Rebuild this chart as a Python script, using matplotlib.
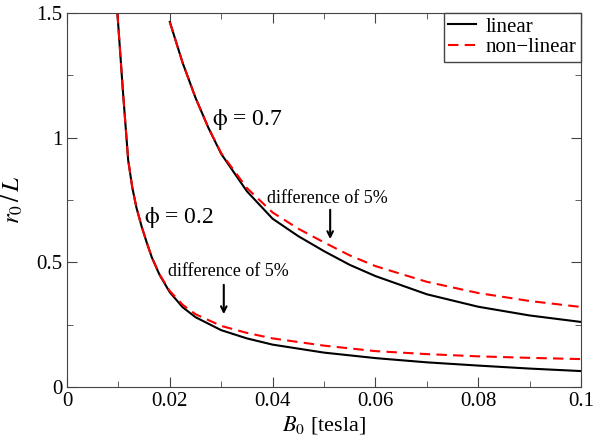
import matplotlib
matplotlib.use("Agg")
from matplotlib import pyplot as plt
from matplotlib.ticker import MultipleLocator, FormatStrFormatter

# phi = 0.2
b_02 = [0.0098, 0.0109, 0.0119, 0.0127, 0.0135, 0.0145, 0.0155, 0.0165, 0.0180, 0.0200,
        0.0225, 0.0250, 0.0300, 0.0350, 0.0400, 0.0500, 0.0600, 0.0700, 0.0800, 0.0900, 0.1000]
lin_02 = [1.50, 1.18, 0.91, 0.80, 0.72, 0.645, 0.58, 0.52, 0.45, 0.38,
          0.32, 0.28, 0.228, 0.195, 0.170, 0.138, 0.116, 0.099, 0.086, 0.074, 0.064]
nonlin_02 = [1.50, 1.18, 0.91, 0.80, 0.72, 0.645, 0.58, 0.52, 0.452, 0.385,
             0.33, 0.292, 0.245, 0.217, 0.195, 0.166, 0.144, 0.132, 0.123, 0.117, 0.112]

# phi = 0.7
b_07 = [0.020, 0.0225, 0.025, 0.0275, 0.030, 0.035, 0.040, 0.045, 0.050, 0.055,
        0.060, 0.070, 0.080, 0.090, 0.100]
lin_07 = [1.464, 1.30, 1.16, 1.04, 0.935, 0.785, 0.675, 0.605, 0.545, 0.49,
          0.445, 0.372, 0.322, 0.287, 0.261]
nonlin_07 = [1.464, 1.30, 1.16, 1.04, 0.938, 0.798, 0.70, 0.635, 0.58, 0.528,
             0.485, 0.422, 0.377, 0.345, 0.321]

plt.rcParams['font.family'] = ['Liberation Serif', 'DejaVu Serif']
plt.rcParams['mathtext.fontset'] = 'stix'

fig = plt.figure(figsize=(6.06, 4.41), dpi=100)
ax = fig.add_axes([0.1106, 0.1224, 0.8481, 0.8481])

ax.plot(b_02, lin_02, color="black", lw=1.5, label="linear")
ax.plot(b_02, nonlin_02, color="red", lw=1.5, ls=(0, (5, 3)), label="non\u2212linear")
ax.plot(b_07, lin_07, color="black", lw=1.5)
ax.plot(b_07, nonlin_07, color="red", lw=1.5, ls=(0, (5, 3)))

ax.set_xlim(0, 0.1)
ax.set_ylim(0, 1.5)
ax.xaxis.set_major_locator(MultipleLocator(0.02))
ax.xaxis.set_minor_locator(MultipleLocator(0.01))
ax.yaxis.set_major_locator(MultipleLocator(0.5))
ax.yaxis.set_minor_locator(MultipleLocator(0.25))
ax.xaxis.set_major_formatter(FormatStrFormatter('%g'))
ax.yaxis.set_major_formatter(FormatStrFormatter('%g'))
ax.tick_params(which="both", direction="in", top=True, right=True, labelsize=15, color="#444444")
ax.tick_params(which="major", length=7)
ax.tick_params(which="minor", length=4)
for s in ax.spines.values():
    s.set_color("#444444")

ax.set_xlabel(r"$B_0$ [tesla]", fontsize=16, labelpad=2)
ax.set_ylabel(r"$r_0\,/\,L$", fontsize=18, labelpad=8)

ax.text(0.0282, 1.071, r"$\mathrm{\phi}$ = 0.7", fontsize=17, va="center")
ax.text(0.0150, 0.678, r"$\mathrm{\phi}$ = 0.2", fontsize=17, va="center")
ax.text(0.0313, 0.465, "difference of 5%", fontsize=13, ha="center", va="center")
ax.text(0.0507, 0.758, "difference of 5%", fontsize=13, ha="center", va="center")
ax.annotate("", xy=(0.0305, 0.281), xytext=(0.0305, 0.421),
            arrowprops=dict(arrowstyle="->", color="black", lw=1.5))
ax.annotate("", xy=(0.0512, 0.582), xytext=(0.0512, 0.722),
            arrowprops=dict(arrowstyle="->", color="black", lw=1.5))

leg = ax.legend(loc="upper right", fontsize=15, handlelength=1.3, handletextpad=0.5,
                borderaxespad=0, borderpad=0.2, labelspacing=0.05, fancybox=False,
                framealpha=1)
leg.get_frame().set_edgecolor("#444444")
leg.get_frame().set_linewidth(1.0)

plt.savefig("out.png", dpi=100)
